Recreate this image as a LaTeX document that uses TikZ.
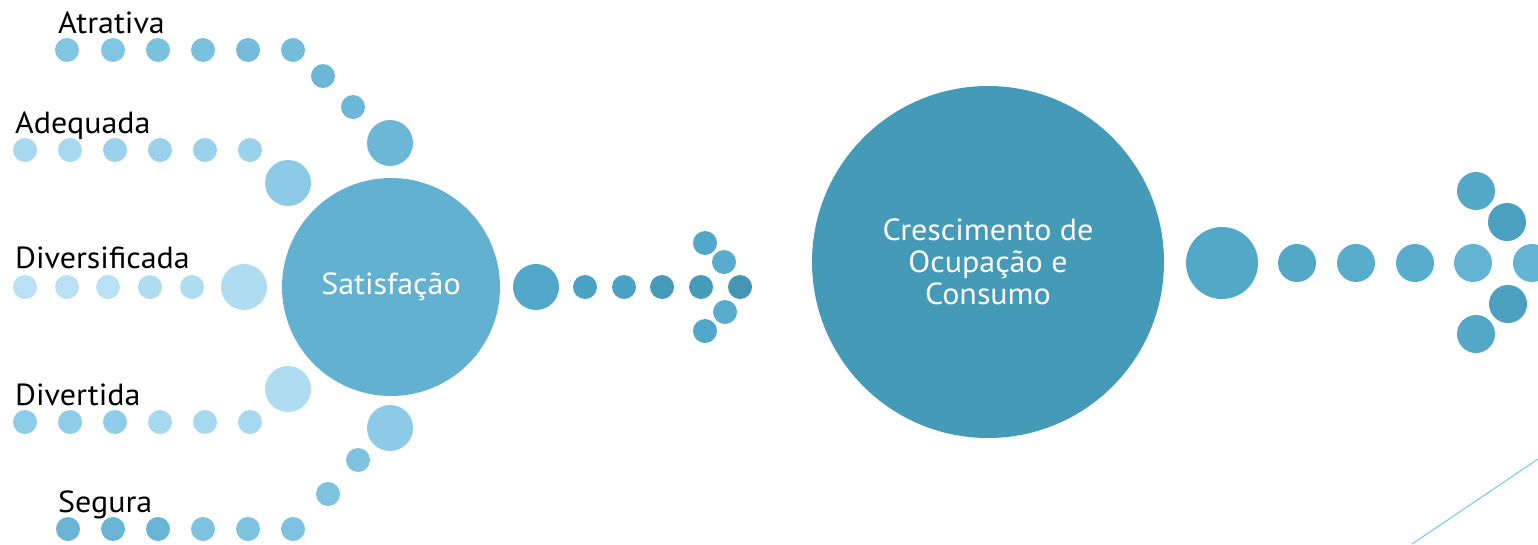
\documentclass[tikz,border=0pt]{standalone}
\usepackage{fontspec}
\setmainfont{PT Sans}[FakeStretch=1.05]
\definecolor{at1}{HTML}{80C6E2}
\definecolor{at2}{HTML}{7AC1DE}
\definecolor{at3}{HTML}{74BCDA}
\definecolor{at4}{HTML}{6DB7D6}
\definecolor{ad1}{HTML}{A6D8EF}
\definecolor{ad2}{HTML}{9AD2EB}
\definecolor{ad3}{HTML}{8CCAE6}
\definecolor{dv1}{HTML}{B9E1F3}
\definecolor{dv2}{HTML}{AEDCF1}
\definecolor{dt1}{HTML}{8ECDE9}
\definecolor{dt2}{HTML}{A6D8EF}
\definecolor{dt3}{HTML}{AEDCF1}
\definecolor{sg1}{HTML}{6AB5D6}
\definecolor{sg2}{HTML}{7DC3E0}
\definecolor{sg3}{HTML}{8CCAE6}
\definecolor{satc}{HTML}{63B1D1}
\definecolor{m1}{HTML}{52A8C8}
\definecolor{m2}{HTML}{4BA2C2}
\definecolor{m3}{HTML}{459BBA}
\definecolor{m4}{HTML}{4496B2}
\definecolor{m5}{HTML}{58ADCC}
\definecolor{bigc}{HTML}{459BB7}
\definecolor{r1}{HTML}{53A8C8}
\definecolor{r2}{HTML}{59ADCC}
\definecolor{r3}{HTML}{62B4D2}
\definecolor{r4}{HTML}{4AA0BE}
\definecolor{linec}{HTML}{6CCBEA}
\tikzset{
  dot/.style={circle, inner sep=0pt, minimum size=24pt, draw=none},
  bigdot/.style={circle, inner sep=0pt, minimum size=46pt, draw=none},
  lbl/.style={font=\fontsize{30.5}{32}\selectfont, text=black, inner sep=0pt, anchor=base west},
  ctext/.style={font=\fontsize{30.5}{32}\selectfont, text=white, align=center, inner sep=0pt}
}
\begin{document}
\begin{tikzpicture}[x=1pt,y=-1pt]
\useasboundingbox (0,0) rectangle (1538,544);
% Atrativa
\node[lbl] (latr) at (58,33) {Atrativa};
\node[dot, fill=at1] (a1) at (67,50) {};
\node[dot, fill=at1] (a2) at (113,50) {};
\node[dot, fill=at2] (a3) at (158,50) {};
\node[dot, fill=at2] (a4) at (203,50) {};
\node[dot, fill=at3] (a5) at (248,50) {};
\node[dot, fill=at3] (a6) at (293,50) {};
\node[dot, fill=at4] (a7) at (323,76) {};
\node[dot, fill=at4] (a8) at (353,107) {};
\node[bigdot, fill=at4] (a9) at (390,143) {};
% Adequada
\node[lbl] (lade) at (15,133) {Adequada};
\node[dot, fill=ad1] (b1) at (25,150) {};
\node[dot, fill=ad1] (b2) at (70,150) {};
\node[dot, fill=ad2] (b3) at (115,150) {};
\node[dot, fill=ad2] (b4) at (160,150) {};
\node[dot, fill=ad2] (b5) at (205,150) {};
\node[dot, fill=ad2] (b6) at (250,150) {};
\node[bigdot, fill=ad3] (b7) at (288,183) {};
% Diversificada
\node[lbl] (ldiv) at (15,268) {Diversificada};
\node[dot, fill=dv1] (c1) at (25,287) {};
\node[dot, fill=dv1] (c2) at (67,287) {};
\node[dot, fill=dv1] (c3) at (108,287) {};
\node[dot, fill=dv2] (c4) at (150,287) {};
\node[dot, fill=dv2] (c5) at (192,287) {};
\node[bigdot, fill=dv2] (c6) at (244,287) {};
% Divertida
\node[lbl] (ldvt) at (15,405) {Divertida};
\node[dot, fill=dt1] (d1) at (25,422) {};
\node[dot, fill=dt1] (d2) at (70,422) {};
\node[dot, fill=dt1] (d3) at (115,422) {};
\node[dot, fill=dt2] (d4) at (160,422) {};
\node[dot, fill=dt2] (d5) at (205,422) {};
\node[dot, fill=dt2] (d6) at (250,422) {};
\node[bigdot, fill=dt3] (d7) at (288,389) {};
% Segura
\node[lbl] (lseg) at (58,512) {Segura};
\node[dot, fill=sg1] (e1) at (68,529) {};
\node[dot, fill=sg1] (e2) at (113,529) {};
\node[dot, fill=sg1] (e3) at (158,529) {};
\node[dot, fill=sg2] (e4) at (203,529) {};
\node[dot, fill=sg2] (e5) at (248,529) {};
\node[dot, fill=sg2] (e6) at (293,529) {};
\node[dot, fill=sg2] (e7) at (328,494) {};
\node[dot, fill=sg2] (e8) at (358,460) {};
\node[bigdot, fill=sg3] (e9) at (390,428) {};
% Satisfacao
\node[circle, fill=satc, minimum size=218pt, inner sep=0pt, ctext] (sat) at (391,287) {Satisfação};
% middle arrow
\node[bigdot, fill=m1] (m0) at (536,287) {};
\node[dot, fill=m2] (mA) at (585,287) {};
\node[dot, fill=m2] (mB) at (624,287) {};
\node[dot, fill=m3] (mC) at (662,287) {};
\node[dot, fill=m3] (mD) at (701,287) {};
\node[dot, fill=m4] (mE) at (740,287) {};
\node[dot, fill=m1] (mF) at (705,243) {};
\node[dot, fill=m5] (mG) at (724,262) {};
\node[dot, fill=m5] (mH) at (725,312) {};
\node[dot, fill=m1] (mI) at (705,331) {};
% big circle
\node[circle, fill=bigc, minimum size=352pt, inner sep=0pt, ctext] (cres) at (988,262) {Crescimento de\\Ocupação e\\Consumo};
% right arrow
\node[circle, inner sep=0pt, minimum size=72pt, fill=r1] (r0) at (1222,263) {};
\node[circle, inner sep=0pt, minimum size=38pt, fill=r1] (rA) at (1297,263) {};
\node[circle, inner sep=0pt, minimum size=38pt, fill=r2] (rB) at (1356,263) {};
\node[circle, inner sep=0pt, minimum size=38pt, fill=r2] (rC) at (1415,263) {};
\node[circle, inner sep=0pt, minimum size=38pt, fill=r3] (rD) at (1473,263) {};
\node[circle, inner sep=0pt, minimum size=38pt, fill=r3] (rE) at (1532,263) {};
\node[circle, inner sep=0pt, minimum size=38pt, fill=r1] (rF) at (1476,191) {};
\node[circle, inner sep=0pt, minimum size=38pt, fill=r4] (rG) at (1507,222) {};
\node[circle, inner sep=0pt, minimum size=38pt, fill=r4] (rH) at (1508,304) {};
\node[circle, inner sep=0pt, minimum size=38pt, fill=r1] (rI) at (1476,334) {};
% decorative line
\coordinate (l1) at (1412,544);
\coordinate (l2) at (1538,459);
\draw[linec, line width=1pt] (l1) -- (l2);
\end{tikzpicture}
\end{document}
